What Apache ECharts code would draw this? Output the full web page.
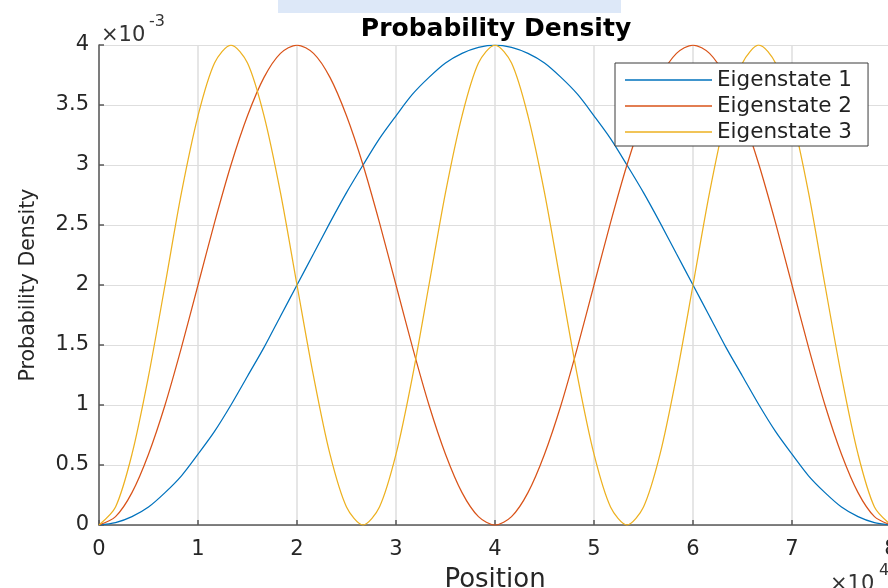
<!DOCTYPE html>
<html>
<head>
<meta charset="utf-8">
<script src="https://cdn.jsdelivr.net/npm/echarts@6/dist/echarts.min.js"></script>
<style>
html,body{margin:0;padding:0;background:#ffffff;}
#c{width:888px;height:588px;}
</style>
</head>
<body>
<div id="c"></div>
<script>
// Position (x 10^4)
const positions = [0,0.167,0.333,0.5,0.667,0.833,1,1.167,1.333,1.5,1.667,1.833,2,2.167,2.333,2.5,2.667,2.833,3,3.167,3.333,3.5,3.667,3.833,4,4.167,4.333,4.5,4.667,4.833,5,5.167,5.333,5.5,5.667,5.833,6,6.167,6.333,6.5,6.667,6.833,7,7.167,7.333,7.5,7.667,7.833,8];
// Probability density (x 10^-3)
const eigen1 = [0,0.02,0.07,0.15,0.27,0.41,0.59,0.78,1.0,1.24,1.48,1.74,2.0,2.26,2.52,2.77,3.0,3.22,3.41,3.59,3.73,3.85,3.93,3.98,4.0,3.98,3.93,3.85,3.73,3.59,3.41,3.22,3.0,2.77,2.52,2.26,2.0,1.74,1.48,1.24,1.0,0.78,0.59,0.41,0.27,0.15,0.07,0.02,0];
const eigen2 = [0,0.07,0.27,0.59,1.0,1.48,2.0,2.52,3.0,3.41,3.73,3.93,4.0,3.93,3.73,3.41,3.0,2.52,2.0,1.48,1.0,0.59,0.27,0.07,0,0.07,0.27,0.59,1.0,1.48,2.0,2.52,3.0,3.41,3.73,3.93,4.0,3.93,3.73,3.41,3.0,2.52,2.0,1.48,1.0,0.59,0.27,0.07,0];
const eigen3 = [0,0.15,0.59,1.24,2.0,2.77,3.41,3.85,4.0,3.85,3.41,2.77,2.0,1.24,0.59,0.15,0,0.15,0.59,1.24,2.0,2.77,3.41,3.85,4.0,3.85,3.41,2.77,2.0,1.24,0.59,0.15,0,0.15,0.59,1.24,2.0,2.77,3.41,3.85,4.0,3.85,3.41,2.77,2.0,1.24,0.59,0.15,0];
const seriesNames = ['Eigenstate 1','Eigenstate 2','Eigenstate 3'];
const seriesColors = ['#0072BD','#D95319','#EDB120'];
const xMin = 0, xMax = 8, xStep = 1;
const yMin = 0, yMax = 4, yStep = 0.5;
const titleText = 'Probability Density';
const xName = 'Position';
const yName = 'Probability Density';
const yExponent = '-3';
const xExponent = '4';

const FONT = 'DejaVu Sans';
const chart = echarts.init(document.getElementById('c'), null, {renderer:'canvas'});

function pairs(vals){ return positions.map((x,i)=>[x, vals[i]]); }
const allVals = [eigen1, eigen2, eigen3];

const option = {
  backgroundColor: '#ffffff',
  animation: false,
  title: {
    text: titleText, left: 496, textAlign: 'center', top: 17, padding: 0,
    textStyle: {fontFamily: FONT, fontWeight: 'bold', fontSize: 25, color: '#000000'}
  },
  grid: {left: 99, top: 45, width: 792, height: 480, containLabel: false, outerBoundsMode: 'none'},
  legend: {
    orient: 'vertical', left: 615, top: 63,
    padding: [6, 16, 3, 10], itemGap: 4,
    itemWidth: 87, itemHeight: 1.5, icon: 'rect',
    backgroundColor: '#ffffff', borderColor: '#3a3a3a', borderWidth: 1,
    textStyle: {fontFamily: FONT, fontSize: 21.5, color: '#222222'},
    data: seriesNames
  },
  xAxis: {
    type: 'value', min: xMin, max: xMax, interval: xStep,
    name: xName, nameLocation: 'middle', nameGap: 42,
    nameTextStyle: {fontFamily: FONT, fontSize: 26, color: '#262626'},
    axisLine: {show: true, onZero: false, lineStyle: {color: '#595959', width: 1.5}},
    axisTick: {show: true, inside: true, length: 5, lineStyle: {color: '#595959', width: 1.5}},
    axisLabel: {fontFamily: FONT, fontSize: 21, color: '#262626', margin: 14},
    splitLine: {show: true, lineStyle: {color: '#dedede', width: 1.5}}
  },
  yAxis: {
    type: 'value', min: yMin, max: yMax, interval: yStep,
    name: yName, nameLocation: 'middle', nameGap: 60, nameRotate: 90,
    nameTextStyle: {fontFamily: FONT, fontSize: 20.5, color: '#262626'},
    axisLine: {show: true, onZero: false, lineStyle: {color: '#595959', width: 1.5}},
    axisTick: {show: true, inside: true, length: 5, lineStyle: {color: '#595959', width: 1.5}},
    axisLabel: {fontFamily: FONT, fontSize: 21, color: '#262626', margin: 10},
    splitLine: {show: true, lineStyle: {color: '#dedede', width: 1.2}}
  },
  series: seriesNames.map((n, k) => ({
    name: n, type: 'line', data: pairs(allVals[k]),
    symbol: 'none', smooth: 0.3, clip: true,
    lineStyle: {color: seriesColors[k], width: 1.25},
    itemStyle: {color: seriesColors[k]},
    z: 3
  })),
  graphic: [
    {type: 'rect', left: 278, top: 0, shape: {width: 343, height: 13}, style: {fill: '#dde8f8'}, silent: true, z: -1},
    {type: 'text', left: 101, top: 25, style: {text: '×10', fontFamily: FONT, fontSize: 21, fill: '#333333'}},
    {type: 'text', left: 149, top: 14, style: {text: yExponent, fontFamily: FONT, fontSize: 16, fill: '#333333'}},
    {type: 'text', left: 830, top: 574, style: {text: '×10', fontFamily: FONT, fontSize: 21, fill: '#333333'}},
    {type: 'text', left: 879, top: 563, style: {text: xExponent, fontFamily: FONT, fontSize: 16, fill: '#333333'}}
  ]
};
chart.setOption(option);
</script>
</body>
</html>
